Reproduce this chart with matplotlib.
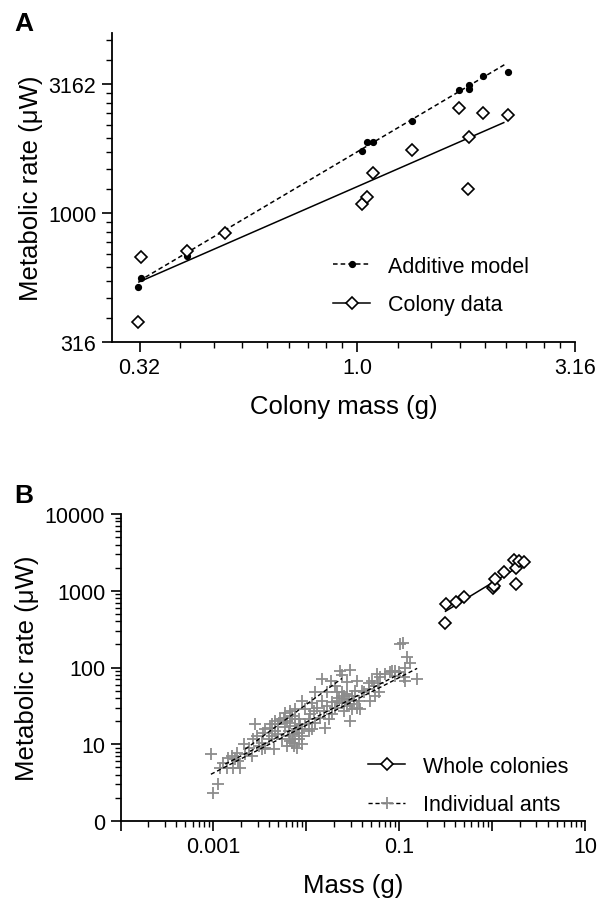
import numpy as np
import matplotlib
matplotlib.use("Agg")
import matplotlib.pyplot as plt
from matplotlib.lines import Line2D

plt.rcParams['font.family'] = ['Liberation Sans', 'DejaVu Sans']

# ---------------- data: panel A ----------------
colony_mass = [0.313, 0.318, 0.406, 0.496, 1.027, 1.051, 1.087, 1.338, 1.714, 1.806, 1.800, 1.945, 2.224]
colony_rate = [379, 677, 714, 841, 1083, 1157, 1429, 1758, 2552, 1971, 1242, 2455, 2398]
additive_mass = [0.313, 0.319, 0.407, 0.496, 1.027, 1.051, 1.087, 1.338, 1.714, 1.806, 1.803, 1.945, 2.216]
additive_rate = [515, 558, 679, 835, 1739, 1894, 1889, 2285, 3006, 3142, 3025, 3404, 3520]

# fitted lines (log10 rate = intercept + slope * log10 mass)
colony_fit = dict(slope=0.738, intercept=3.103, mmin=0.315, mmax=2.17)
additive_fit = dict(slope=1.0, intercept=3.238, mmin=0.315, mmax=2.18)

# ---------------- data: panel B (individual ants) ----------------
ant_mass = [0.1028, 0.109, 0.121, 0.132, 0.0908, 0.100, 0.1145, 0.0802, 0.0708, 0.0576,
            0.0626, 0.1117, 0.1146, 0.1556, 0.0469, 0.059, 0.0601, 0.0553, 0.0489, 0.0414,
            0.0232, 0.0297, 0.0242, 0.01472, 0.01857, 0.02735, 0.0351, 0.0205, 0.0337, 0.0397,
            0.01247, 0.01667, 0.0242, 0.031, 0.0223, 0.0263, 0.00895, 0.01148, 0.01472, 0.01888,
            0.0242, 0.0297, 0.0351, 0.0381, 0.031, 0.00973, 0.01197, 0.01535, 0.01738, 0.0297,
            0.01888, 0.01413, 0.00593, 0.0070, 0.00569, 0.00826, 0.01057, 0.01247, 0.016, 0.00973,
            0.00502, 0.00593, 0.0076, 0.00895, 0.01057, 0.00644, 0.00826, 0.00711, 0.00895, 0.00644,
            0.0076, 0.0073, 0.00895, 0.0070, 0.00792, 0.00546, 0.00462, 0.00392, 0.00444, 0.0036,
            0.00332, 0.00426, 0.00502, 0.00294, 0.00282, 0.00239, 0.00211, 0.00259, 0.0022, 0.00306,
            0.00179, 0.00171, 0.00194, 0.00164, 0.00145, 0.00139, 0.00118, 0.00128, 0.000944, 0.00113,
            0.00100, 0.0036, 0.00332, 0.0252, 0.02735, 0.0214, 0.0366, 0.0323, 0.02735, 0.0076,
            0.00671, 0.00859, 0.00618, 0.00792,
            0.0076, 0.00671, 0.00524, 0.00462, 0.00408, 0.00346, 0.00426, 0.0027, 0.00158, 0.00186,
            0.0509, 0.0836, 0.0908, 0.0469, 0.0531, 0.0110, 0.0130, 0.01667, 0.0205, 0.0252,
            0.0214, 0.0285, 0.01148, 0.00671, 0.00826, 0.00618]
ant_rate = [202, 208, 135, 114, 90.6, 86.1, 100, 86.1, 82.0, 82.0,
            74.1, 74.1, 67.1, 70.5, 62.5, 62.5, 47.3, 42.8, 36.8, 47.3,
            90.6, 93.3, 79.5, 70.5, 67.1, 63.8, 67.1, 57.8, 49.7, 49.7,
            48.2, 47.3, 47.3, 42.8, 40.6, 38.7, 36.8, 34.3, 36.8, 35.0,
            34.3, 33.3, 30.1, 28.6, 28.6, 28.6, 27.3, 27.3, 21.2, 20.2,
            24.7, 22.3, 25.9, 23.4, 22.3, 21.2, 21.2, 19.2, 16.5, 18.3,
            18.3, 17.0, 17.4, 16.0, 15.0, 15.0, 14.2, 13.5, 12.9, 12.9,
            11.6, 9.53, 10.0, 10.5, 9.07, 11.6, 15.0, 11.6, 8.63, 9.07,
            8.63, 12.9, 13.5, 12.9, 18.3, 9.07, 10.0, 7.06, 7.43, 9.53,
            7.80, 6.38, 4.97, 4.97, 6.71, 4.97, 4.97, 5.78, 7.43, 3.02,
            2.35, 15.7, 10.5, 42.8, 31.7, 36.8, 36.8, 36.8, 45.0, 21.2,
            19.2, 18.3, 20.2, 15.7,
            28.6, 27.3, 21.2, 20.2, 16.5, 14.2, 18.3, 11.6, 7.06, 6.08,
            67.1, 90.6, 78.0, 52.2, 57.8, 24.7, 30.1, 31.7, 30.1, 27.3,
            47.3, 38.7, 15.7, 11.1, 11.6, 9.53]

ant_fits = [dict(slope=0.6215, intercept=2.490, mmin=0.00094, mmax=0.156),
            dict(slope=0.626, intercept=2.540, mmin=0.00134, mmax=0.111),
            dict(slope=0.885, intercept=3.288, mmin=0.0022, mmax=0.0242)]

xticksA = [10 ** -0.5, 1.0, 10 ** 0.5]
xlabelsA = ['0.32', '1.0', '3.16']
yticksA = [10 ** 2.5, 1000, 10 ** 3.5]
ylabelsA = ['316', '1000', '3162']

xticksB = [1e-4, 1e-3, 1e-2, 1e-1, 1, 10]
xlabelsB = ['', '0.001', '', '0.1', '', '10']
yticksB = [1, 10, 100, 1000, 10000]
ylabelsB = ['0', '10', '100', '1000', '10000']


def fit_line(ax, f, **kw):
    m = np.array([f['mmin'], f['mmax']])
    r = 10 ** (f['intercept'] + f['slope'] * np.log10(m))
    ax.plot(m, r, **kw)


def lin_minor(majors, n=9):
    out = []
    for a, b in zip(majors[:-1], majors[1:]):
        out.extend(np.linspace(a, b, n + 1)[1:-1])
    return out


W, H = 604, 903
fig = plt.figure(figsize=(W / 100, H / 100), dpi=100)

TICK_FS = 15.5
LAB_FS = 18.5
LEG_FS = 15.5
GRAY = '#8c8c8c'
DIAM = dict(marker='D', mfc='white', mec='black', mew=1.2, ms=6.3)

legkw = dict(loc='upper left', bbox_transform=fig.transFigure, frameon=False, fontsize=LEG_FS,
             handlelength=1.72, handletextpad=0.84, labelspacing=0.8, borderpad=0, borderaxespad=0)

# ---------------- panel A ----------------
axA = fig.add_axes([111.7 / W, 1 - 343 / H, (575 - 111.7) / W, (343 - 34) / H])
axA.set_xscale('log')
axA.set_yscale('log')
fit_line(axA, additive_fit, color='black', lw=1.1, ls=(0, (3, 2)), zorder=2)
fit_line(axA, colony_fit, color='black', lw=1.1, ls='-', zorder=2)
axA.plot(additive_mass, additive_rate, 'o', color='black', ms=4.2, zorder=3)
axA.plot(colony_mass, colony_rate, ls='none', zorder=4, **DIAM)
axA.set_xlim(10 ** -0.564, 10 ** 0.5)
axA.set_ylim(10 ** 2.5, 5000)
axA.set_xticks(xticksA)
axA.set_xticklabels(xlabelsA)
axA.set_yticks(yticksA)
axA.set_yticklabels(ylabelsA)
axA.set_xticks(lin_minor(xticksA), minor=True)
axA.set_yticks([v for v in lin_minor(yticksA + [10 ** 4]) if v < 5000], minor=True)
axA.xaxis.set_minor_formatter(matplotlib.ticker.NullFormatter())
axA.yaxis.set_minor_formatter(matplotlib.ticker.NullFormatter())
axA.set_xlabel('Colony mass (g)', fontsize=LAB_FS, labelpad=11)
axA.set_ylabel('Metabolic rate (μW)', fontsize=LAB_FS, labelpad=4)

legA = [Line2D([], [], color='black', lw=1.1, ls=(0, (3, 2)), marker='o', ms=4.2, label='Additive model'),
        Line2D([], [], color='black', lw=1.1, label='Colony data', **DIAM)]
axA.legend(handles=legA, bbox_to_anchor=(333 / W, 1 - 257 / H), **legkw)

# ---------------- panel B ----------------
axB = fig.add_axes([120.5 / W, 1 - 822 / H, (585 - 120.5) / W, (822 - 515) / H])
axB.set_xscale('log')
axB.set_yscale('log')
axB.plot(ant_mass, ant_rate, '+', color=GRAY, ms=8, mew=1.3, zorder=2)
for f in ant_fits:
    fit_line(axB, f, color='black', lw=1.0, ls=(0, (3, 2)), zorder=3)
fit_line(axB, colony_fit, color='black', lw=1.1, ls='-', zorder=3)
axB.plot(colony_mass, colony_rate, ls='none', zorder=4, **DIAM)
axB.set_xlim(1e-4, 10)
axB.set_ylim(1, 10000)
axB.set_xticks(xticksB)
axB.set_xticklabels(xlabelsB)
axB.set_yticks(yticksB)
axB.set_yticklabels(ylabelsB)
axB.xaxis.set_minor_locator(matplotlib.ticker.LogLocator(base=10, subs=np.arange(2, 10), numticks=20))
axB.yaxis.set_minor_locator(matplotlib.ticker.LogLocator(base=10, subs=np.arange(2, 10), numticks=20))
axB.xaxis.set_minor_formatter(matplotlib.ticker.NullFormatter())
axB.yaxis.set_minor_formatter(matplotlib.ticker.NullFormatter())
axB.set_xlabel('Mass (g)', fontsize=LAB_FS, labelpad=11)
axB.set_ylabel('Metabolic rate (μW)', fontsize=LAB_FS, labelpad=4)

legB = [Line2D([], [], color='black', lw=1.1, label='Whole colonies', **DIAM),
        Line2D([], [], color='black', lw=1.0, ls=(0, (3, 2)), marker='+', mec=GRAY, ms=8, mew=1.3,
               label='Individual ants')]
axB.legend(handles=legB, bbox_to_anchor=(368 / W, 1 - 757 / H), **legkw)

for ax in (axA, axB):
    for s in ('top', 'right'):
        ax.spines[s].set_visible(False)
    for s in ('left', 'bottom'):
        ax.spines[s].set_linewidth(1.3)
    ax.tick_params(which='major', direction='out', length=7, width=1.2, labelsize=TICK_FS, pad=4)
    ax.tick_params(which='minor', direction='out', length=4, width=1.0)

fig.text(14 / W, 1 - 12 / H, 'A', fontsize=19, fontweight='bold', va='top', ha='left')
fig.text(14 / W, 1 - 484 / H, 'B', fontsize=19, fontweight='bold', va='top', ha='left')

fig.savefig('out.png', dpi=100)
